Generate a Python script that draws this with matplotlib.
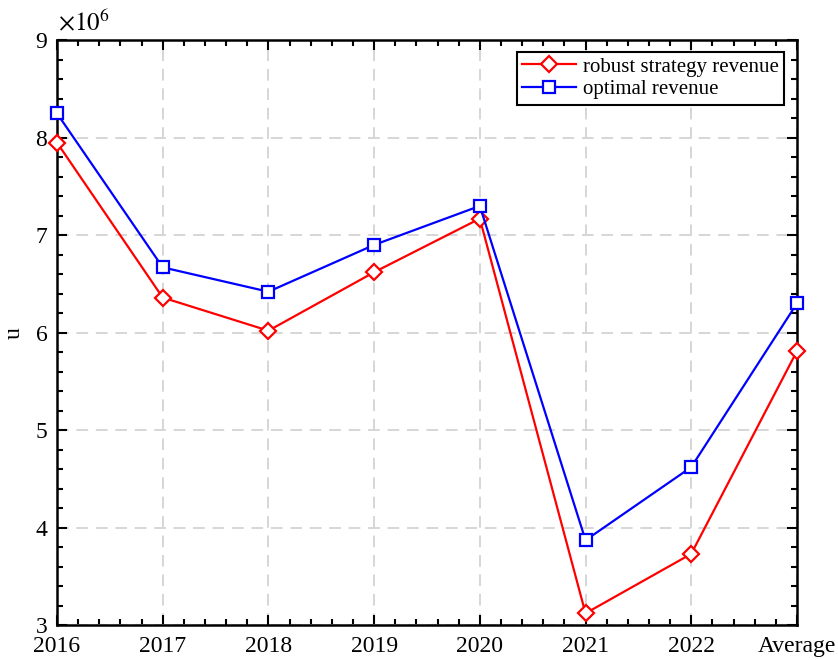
import matplotlib
matplotlib.use("Agg")
import matplotlib.pyplot as plt
import matplotlib.ticker as mticker
import numpy as np

categories = ["2016", "2017", "2018", "2019", "2020", "2021", "2022", "Average"]
robust_revenue = [7.95e6, 6.36e6, 6.02e6, 6.62e6, 7.17e6, 3.12e6, 3.73e6, 5.81e6]
optimal_revenue = [8.25e6, 6.67e6, 6.42e6, 6.90e6, 7.30e6, 3.87e6, 4.62e6, 6.30e6]

plt.rcParams["font.family"] = ["Liberation Serif", "DejaVu Serif"]
plt.rcParams["mathtext.fontset"] = "stix"

fig = plt.figure(figsize=(8.38, 6.6), dpi=100)
ax = fig.add_axes([0.068, 0.053, 0.883, 0.886])

x = np.arange(len(categories))
ax.plot(x, robust_revenue, color="#ff0000", linewidth=1.6, marker="D",
        markersize=8.5, markerfacecolor="white", markeredgewidth=1.6,
        label="robust strategy revenue", clip_on=False, zorder=3)
ax.plot(x, optimal_revenue, color="#0000ff", linewidth=1.6, marker="s",
        markersize=8, markerfacecolor="white", markeredgewidth=1.6,
        label="optimal revenue", clip_on=False, zorder=3)

ax.set_xlim(0, len(categories) - 1)
ax.set_ylim(3e6, 9e6)
ax.set_xticks(x)
ax.set_xticklabels(categories)
ax.xaxis.set_minor_locator(mticker.AutoMinorLocator(5))
ax.yaxis.set_major_locator(mticker.MultipleLocator(1e6))
ax.yaxis.set_minor_locator(mticker.AutoMinorLocator(5))
ax.yaxis.set_major_formatter(mticker.FuncFormatter(lambda v, _p: f"{v / 1e6:.0f}"))

ax.tick_params(which="both", direction="in", top=True, right=True,
               width=1.5, labelsize=17)
ax.tick_params(axis="x", which="major", pad=8)
ax.tick_params(axis="y", which="major", pad=7)
ax.tick_params(which="major", length=7)
ax.tick_params(which="minor", length=4)
for s in ax.spines.values():
    s.set_linewidth(1.8)

ax.grid(True, which="major", color="#d6d6d6", linestyle=(0, (6, 4)), linewidth=1.4)
ax.set_axisbelow(True)

ax.set_ylabel("u", fontsize=17, labelpad=8)
ax.text(0.002, 1.008, r"$\times10^{6}$", transform=ax.transAxes,
        fontsize=18, ha="left", va="bottom")

leg = ax.legend(loc="upper right", fontsize=15, fancybox=False, framealpha=1,
                edgecolor="black", borderpad=0.25, handlelength=2.6,
                handletextpad=0.3, labelspacing=0.15, borderaxespad=0,
                bbox_to_anchor=(0.982, 0.98))
leg.get_frame().set_linewidth(1.5)

fig.savefig("out.png", dpi=100, facecolor="white")
